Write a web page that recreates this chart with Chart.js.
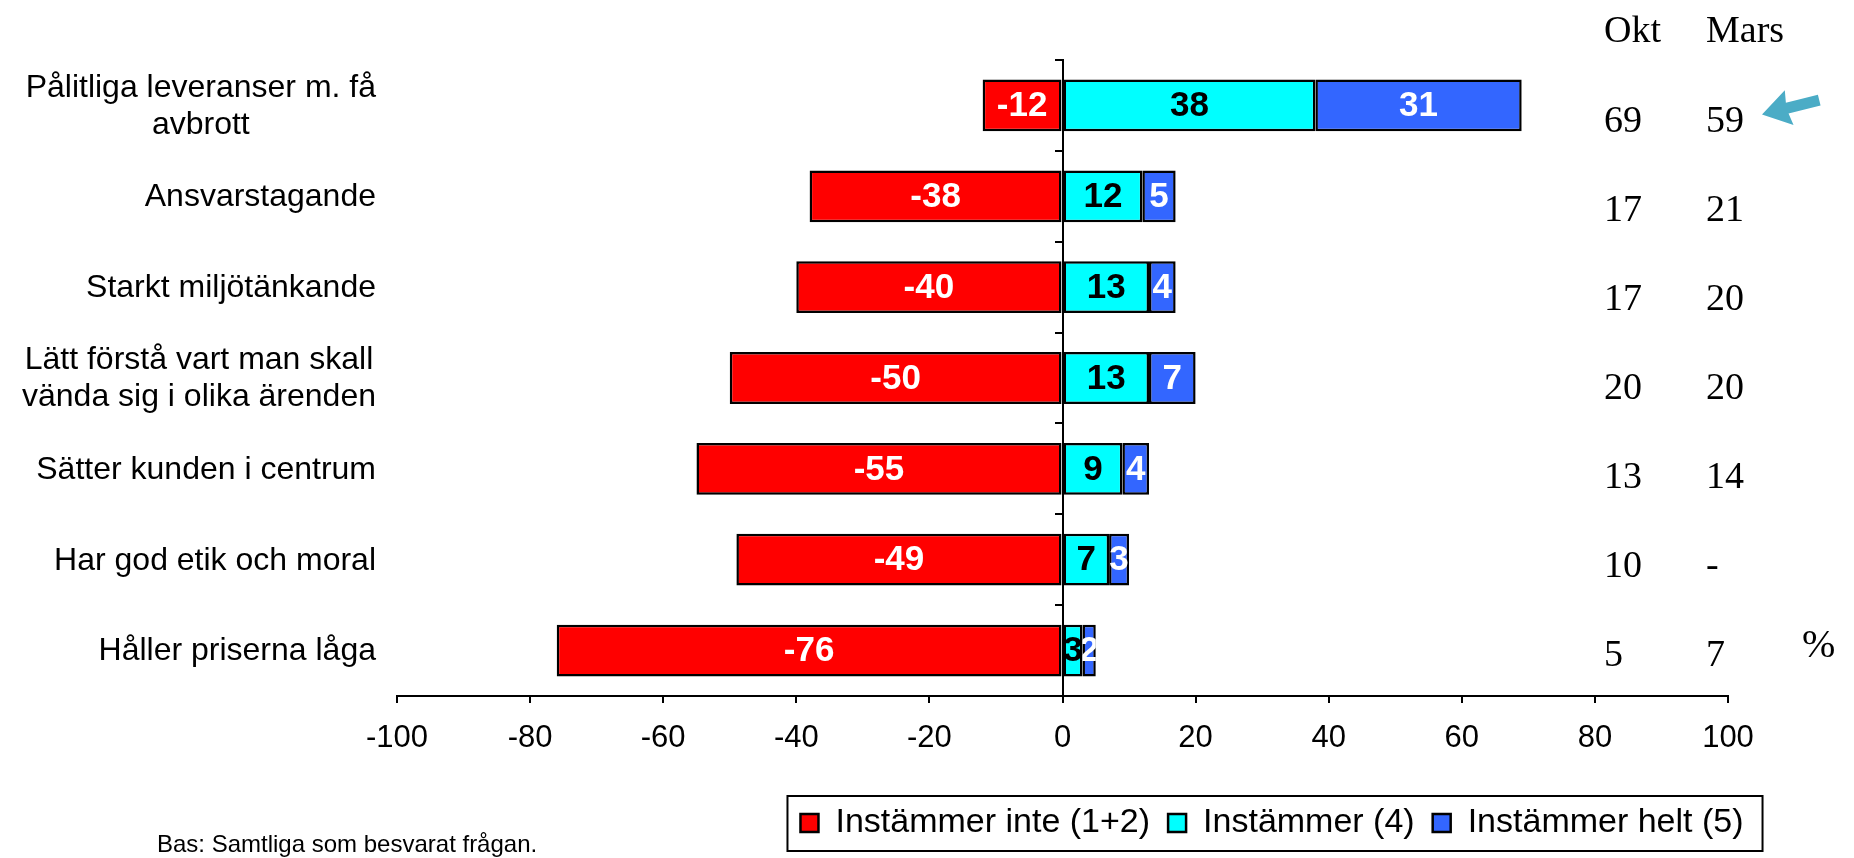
<!DOCTYPE html>
<html>
<head>
<meta charset="utf-8">
<script src="https://cdn.jsdelivr.net/npm/chart.js@4.4.0/dist/chart.umd.min.js"></script>
<style>
    body { margin: 0; background: #ffffff; }
</style>
</head>
<body>
<canvas id="chart" width="1854" height="858"></canvas>
<script>
// categories, top to bottom
const categories = [
    ['Pålitliga leveranser m. få', 'avbrott'],
    'Ansvarstagande',
    'Starkt miljötänkande',
    ['Lätt förstå vart man skall', 'vända sig i olika ärenden'],
    'Sätter kunden i centrum',
    'Har god etik och moral',
    'Håller priserna låga'
];
const instammerInte = [-12, -38, -40, -50, -55, -49, -76];
const instammer = [38, 12, 13, 13, 9, 7, 3];
const instammerHelt = [31, 5, 4, 7, 4, 3, 2];
// right hand columns
const columnHeaders = ['Okt', 'Mars'];
const oktValues = ['69', '17', '17', '20', '13', '10', '5'];
const marsValues = ['59', '21', '20', '20', '14', '-', '7'];
// x axis ticks
const xMin = -100;
const xMax = 100;
const xStep = 20;

const SANS = '"Liberation Sans", Arial, sans-serif';
const SERIF = '"Liberation Serif", "Times New Roman", serif';
Chart.defaults.font.family = SANS;
Chart.defaults.color = '#000000';

// move the legend under the right part of the plot
const legendShift = {
    id: 'legendShift',
    afterLayout(chart) {
        const l = chart.legend;
        const dx = 1272 - (l.left + l.right) / 2;
        l.left += dx;
        l.right += dx;
    }
};

// values written inside each bar segment
const barLabels = {
    id: 'barLabels',
    afterDatasetsDraw(chart) {
        const ctx = chart.ctx;
        chart.data.datasets.forEach((ds, i) => {
            const meta = chart.getDatasetMeta(i);
            meta.data.forEach((bar, j) => {
                const p = bar.getProps(['x', 'y', 'base', 'height'], true);
                const left = Math.min(p.x, p.base);
                const right = Math.max(p.x, p.base);
                ctx.save();
                ctx.beginPath();
                ctx.rect(left, p.y - p.height / 2, right - left, p.height);
                ctx.clip();
                ctx.font = 'bold 35px ' + SANS;
                ctx.fillStyle = ds.labelColor;
                ctx.textAlign = 'center';
                ctx.textBaseline = 'middle';
                ctx.fillText(String(ds.data[j]), (left + right) / 2, p.y + 1);
                ctx.restore();
            });
        });
    }
};

// category names, the Okt / Mars columns and the notes
const sideText = {
    id: 'sideText',
    afterDraw(chart) {
        const ctx = chart.ctx;
        const y = chart.scales.y;
        ctx.save();

        // category labels, right aligned block, lines centred
        ctx.font = '32px ' + SANS;
        ctx.fillStyle = '#000';
        ctx.textAlign = 'center';
        ctx.textBaseline = 'middle';
        categories.forEach((lab, i) => {
            const lines = Array.isArray(lab) ? lab : [lab];
            const w = Math.max(...lines.map(s => ctx.measureText(s).width));
            const cx = 376 - w / 2;
            const cy = y.getPixelForValue(i) + 1;
            const lh = 37;
            lines.forEach((s, k) => {
                ctx.fillText(s, cx, cy - (lines.length - 1) * lh / 2 + k * lh);
            });
        });

        // Okt / Mars columns
        ctx.font = '38px ' + SERIF;
        ctx.textAlign = 'left';
        ctx.textBaseline = 'alphabetic';
        ctx.fillText(columnHeaders[0], 1604, 42);
        ctx.fillText(columnHeaders[1], 1706, 42);
        oktValues.forEach((v, i) => {
            const by = y.getPixelForValue(i) + 26.5 - 1.9 * i;
            ctx.fillText(v, 1604, by);
            ctx.fillText(marsValues[i], 1706, by);
        });
        ctx.font = '40px ' + SERIF;
        ctx.fillText('%', 1802, 657);

        // arrow pointing at the first Mars value
        const tipX = 1762, tipY = y.getPixelForValue(0) + 9;
        ctx.save();
        ctx.translate(tipX, tipY);
        ctx.rotate(Math.atan2(-14, 56));
        ctx.fillStyle = '#4BACC6';
        ctx.beginPath();
        ctx.moveTo(0, 0);
        ctx.lineTo(28, -18);
        ctx.lineTo(26, -5.5);
        ctx.lineTo(59, -5.5);
        ctx.lineTo(59, 5.5);
        ctx.lineTo(26, 5.5);
        ctx.lineTo(28, 18);
        ctx.closePath();
        ctx.fill();
        ctx.restore();

        // base note
        ctx.font = '24px ' + SANS;
        ctx.fillStyle = '#000';
        ctx.textBaseline = 'middle';
        ctx.fillText('Bas: Samtliga som besvarat frågan.', 157, 845);

        // frame round the legend
        const hb = chart.legend.legendHitBoxes;
        if (hb && hb.length) {
            const first = hb[0], last = hb[hb.length - 1];
            const l = first.left - 13;
            const r = last.left + last.width + 19;
            const cy = first.top + first.height / 2;
            ctx.strokeStyle = '#000';
            ctx.lineWidth = 2;
            ctx.strokeRect(l, cy - 27, r - l, 55);
        }
        ctx.restore();
    }
};

new Chart(document.getElementById('chart').getContext('2d'), {
    type: 'bar',
    data: {
        labels: categories,
        datasets: [
            {
                label: 'Instämmer inte (1+2)',
                data: instammerInte,
                backgroundColor: '#FF0000',
                labelColor: '#FFFFFF'
            },
            {
                label: 'Instämmer (4)',
                data: instammer,
                backgroundColor: '#00FFFF',
                labelColor: '#000000'
            },
            {
                label: 'Instämmer helt (5)',
                data: instammerHelt,
                backgroundColor: '#3366FF',
                labelColor: '#FFFFFF'
            }
        ]
    },
    options: {
        indexAxis: 'y',
        responsive: false,
        animation: false,
        datasets: {
            bar: {
                borderColor: '#000000',
                borderWidth: 2.5,
                borderSkipped: false,
                barPercentage: 0.57,
                categoryPercentage: 1.0
            }
        },
        layout: {
            padding: { top: 60, right: 126, bottom: 8, left: 0 }
        },
        scales: {
            x: {
                type: 'linear',
                stacked: true,
                min: xMin,
                max: xMax,
                ticks: { stepSize: xStep, font: { size: 31 }, padding: 17, color: '#000' },
                grid: { drawOnChartArea: false, tickLength: 7, color: '#000', lineWidth: 2 },
                border: { display: true, color: '#000', width: 2 },
                afterFit: s => { s.height = 92; }
            },
            y: {
                type: 'category',
                stacked: true,
                position: 'left',
                ticks: { display: false },
                grid: { display: false },
                border: { display: false },
                afterFit: s => { s.width = 397; }
            },
            y2: {
                type: 'category',
                axis: 'y',
                position: { x: 0 },
                offset: true,
                ticks: { display: false },
                grid: { offset: true, drawOnChartArea: false, tickLength: 7, color: '#000', lineWidth: 2 },
                border: { display: true, color: '#000', width: 2 }
            }
        },
        plugins: {
            legend: {
                position: 'bottom',
                labels: {
                    boxWidth: 18,
                    boxHeight: 18,
                    padding: 18,
                    color: '#000',
                    font: { size: 34 }
                }
            },
            tooltip: { enabled: false }
        }
    },
    plugins: [legendShift, barLabels, sideText]
});
</script>
</body>
</html>
